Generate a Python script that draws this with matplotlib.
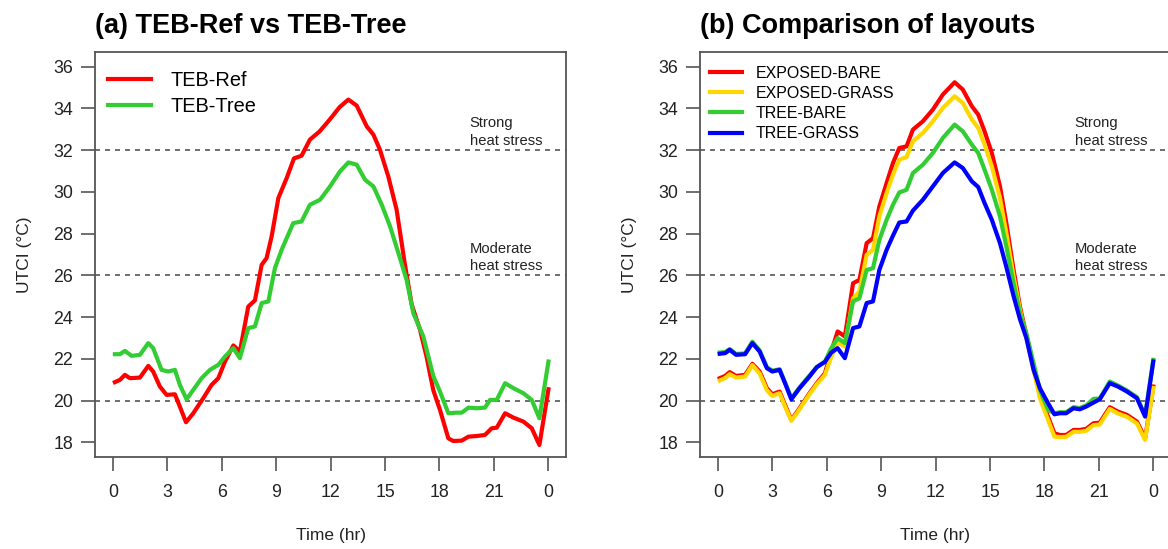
import matplotlib
matplotlib.use("Agg")
import matplotlib.pyplot as plt

plt.rcParams['font.family'] = ['Liberation Sans', 'DejaVu Sans']

# ---------------- data ----------------
hours_ref = [0.11, 0.39, 0.66, 0.94, 1.49, 1.95, 2.22, 2.59, 2.96, 3.42, 3.69, 4.03, 4.43, 4.98, 5.44,
             5.81, 6.18, 6.64, 7.0, 7.46, 7.83, 8.2, 8.47, 8.75, 9.12, 9.58, 9.98, 10.4, 10.86, 11.4,
             11.95, 12.5, 12.98, 13.44, 13.99, 14.36, 14.72, 15.18, 15.64, 16.1, 16.47, 16.93, 17.29,
             17.66, 18.03, 18.49, 18.76, 19.23, 19.6, 20.06, 20.51, 20.88, 21.16, 21.62, 22.08, 22.63,
             23.09, 23.51, 24.01]
teb_ref = [20.88, 20.99, 21.23, 21.07, 21.1, 21.66, 21.39, 20.67, 20.27, 20.3, 19.71, 18.96, 19.39,
           20.11, 20.75, 21.07, 21.87, 22.64, 22.35, 24.5, 24.8, 26.5, 26.82, 27.86, 29.7, 30.66, 31.6,
           31.73, 32.5, 32.9, 33.46, 34.06, 34.42, 34.13, 33.14, 32.74, 32.02, 30.74, 29.14, 26.5,
           24.6, 23.39, 22.1, 20.5, 19.55, 18.19, 18.06, 18.08, 18.27, 18.3, 18.35, 18.67, 18.7, 19.39,
           19.18, 18.99, 18.67, 17.87, 20.54]

hours_tree = [0.11, 0.39, 0.66, 1.03, 1.49, 1.95, 2.22, 2.68, 3.05, 3.42, 3.69, 4.06, 4.43, 4.89, 5.35,
              5.81, 6.18, 6.64, 7.0, 7.46, 7.83, 8.2, 8.57, 8.93, 9.3, 9.94, 10.4, 10.86, 11.42, 11.97,
              12.52, 12.98, 13.44, 13.9, 14.36, 14.82, 15.28, 15.74, 16.19, 16.56, 17.11, 17.67, 18.03,
              18.49, 18.95, 19.23, 19.6, 20.06, 20.51, 20.79, 21.16, 21.62, 22.08, 22.63, 23.09, 23.51,
              24.01]
teb_tree = [22.22, 22.22, 22.38, 22.14, 22.19, 22.75, 22.51, 21.47, 21.39, 21.47, 20.75, 20.06, 20.51,
            21.07, 21.47, 21.71, 22.11, 22.51, 22.03, 23.47, 23.55, 24.67, 24.75, 26.34, 27.22, 28.5,
            28.58, 29.38, 29.62, 30.26, 30.98, 31.41, 31.3, 30.58, 30.26, 29.38, 28.34, 27.06, 25.78,
            24.19, 23.07, 21.15, 20.43, 19.39, 19.42, 19.42, 19.66, 19.63, 19.66, 20.03, 20.03, 20.83,
            20.59, 20.35, 20.03, 19.15, 21.87]

hours_layout = [0.1, 0.4, 0.65, 1.0, 1.5, 1.9, 2.3, 2.7, 3.0, 3.4, 3.7, 4.05, 4.5, 5.05, 5.45, 5.9,
                6.25, 6.6, 7.0, 7.45, 7.8, 8.2, 8.55, 8.9, 9.3, 9.65, 10.0, 10.4, 10.75, 11.3, 11.85,
                12.4, 13.05, 13.5, 14.0, 14.35, 14.7, 15.1, 15.55, 15.9, 16.3, 16.65, 17.0, 17.4, 17.75,
                18.2, 18.55, 18.85, 19.2, 19.6, 19.95, 20.3, 20.7, 21.05, 21.6, 22.05, 22.55, 23.1,
                23.55, 24.0]
exposed_bare = [21.07, 21.18, 21.36, 21.18, 21.23, 21.76, 21.39, 20.59, 20.3, 20.43, 19.79, 19.07,
                19.63, 20.35, 20.83, 21.31, 22.35, 23.31, 23.07, 25.62, 25.78, 27.54, 27.78, 29.3,
                30.42, 31.38, 32.1, 32.18, 32.98, 33.38, 33.94, 34.66, 35.25, 34.9, 34.1, 33.7, 32.9,
                31.86, 30.26, 28.5, 26.26, 24.5, 23.15, 21.63, 20.27, 19.23, 18.43, 18.35, 18.35,
                18.59, 18.59, 18.64, 18.91, 18.94, 19.68, 19.47, 19.31, 18.99, 18.19, 20.67]
exposed_grass = [20.96, 21.08, 21.26, 21.1, 21.15, 21.7, 21.3, 20.5, 20.22, 20.35, 19.72, 19.03,
                 19.58, 20.3, 20.78, 21.23, 22.1, 22.78, 22.59, 24.9, 25.22, 26.98, 27.22, 28.82,
                 29.94, 30.82, 31.54, 31.67, 32.42, 32.82, 33.38, 34.02, 34.58, 34.26, 33.46, 33.06,
                 32.26, 31.22, 29.7, 28.02, 25.94, 24.35, 23.04, 21.47, 20.11, 19.07, 18.27, 18.25,
                 18.26, 18.5, 18.5, 18.55, 18.82, 18.85, 19.6, 19.38, 19.22, 18.9, 18.11, 20.6]
tree_bare = [22.3, 22.32, 22.47, 22.23, 22.26, 22.82, 22.4, 21.6, 21.43, 21.5, 20.87, 20.1, 20.63,
             21.2, 21.6, 21.87, 22.51, 22.99, 22.75, 24.75, 24.9, 26.26, 26.34, 27.7, 28.66, 29.38,
             29.97, 30.1, 30.9, 31.3, 31.86, 32.58, 33.22, 32.9, 32.26, 31.86, 31.06, 30.1, 28.82,
             27.38, 25.62, 24.19, 23.23, 21.79, 20.51, 19.55, 19.39, 19.44, 19.44, 19.68, 19.64,
             19.76, 20.08, 20.1, 20.91, 20.72, 20.48, 20.16, 19.28, 21.95]
tree_grass = [22.24, 22.27, 22.43, 22.19, 22.22, 22.75, 22.35, 21.55, 21.39, 21.47, 20.83, 20.06,
              20.59, 21.15, 21.6, 21.85, 22.3, 22.51, 22.03, 23.47, 23.55, 24.67, 24.75, 26.26,
              27.22, 27.9, 28.53, 28.58, 29.1, 29.62, 30.26, 30.9, 31.41, 31.14, 30.5, 30.23, 29.46,
              28.66, 27.54, 26.4, 25.0, 23.9, 23.0, 21.47, 20.59, 19.87, 19.34, 19.39, 19.39, 19.63,
              19.58, 19.71, 19.9, 20.06, 20.83, 20.67, 20.43, 20.11, 19.23, 21.87]

x_ticks = [0, 3, 6, 9, 12, 15, 18, 21, 24]
x_tick_labels = ['0', '3', '6', '9', '12', '15', '18', '21', '0']
y_ticks = [18, 20, 22, 24, 26, 28, 30, 32, 34, 36]
stress_levels = [20, 26, 32]
stress_labels = {26: 'Moderate\nheat stress', 32: 'Strong\nheat stress'}

# ---------------- figure ----------------
W, H = 1168, 549
fig = plt.figure(figsize=(W / 100, H / 100), dpi=100)

def px_axes(left, top, right, bottom):
    return fig.add_axes([left / W, 1 - bottom / H, (right - left) / W, (bottom - top) / H])

ax1 = px_axes(95.3, 52, 565.7, 457.3)
ax2 = px_axes(700.3, 52, 1170.7, 457.3)

spine_col = '#555555'
text_col = '#222222'

def style(ax, title):
    ax.set_xlim(-0.97, 24.96)
    ax.set_ylim(17.28, 36.70)
    ax.set_xticks(x_ticks)
    ax.set_xticklabels(x_tick_labels)
    ax.set_yticks(y_ticks)
    ax.tick_params(axis='both', direction='out', length=10, width=1.2, color=spine_col,
                   labelsize=12.8, labelcolor=text_col)
    ax.tick_params(axis='x', pad=9)
    ax.tick_params(axis='y', pad=6)
    for s in ax.spines.values():
        s.set_color(spine_col)
        s.set_linewidth(1.3)
    ax.set_xlabel('Time (hr)', fontsize=12.5, color=text_col, labelpad=20)
    ax.set_ylabel('UTCI (°C)', fontsize=12.5, color=text_col, labelpad=15)
    ax.set_title(title, loc='left', fontsize=19.5, fontweight='bold', pad=14)
    for lvl in stress_levels:
        ax.axhline(lvl, color='#555555', lw=1.2, ls=(0, (3, 3)), zorder=1)
    for lvl, lab in stress_labels.items():
        ax.text(19.66, lvl + 0.1, lab, fontsize=10.6, color=text_col, ha='left', va='bottom',
                linespacing=1.32)

style(ax1, '(a) TEB-Ref vs TEB-Tree')
style(ax2, '(b) Comparison of layouts')

lw = 3.0
ax1.plot(hours_ref, teb_ref, color='#FF0000', lw=lw, label='TEB-Ref', zorder=3)
ax1.plot(hours_tree, teb_tree, color='#32CD32', lw=lw, label='TEB-Tree', zorder=3)
ax1.legend(loc='upper left', bbox_to_anchor=(0.027, 0.953), frameon=False, fontsize=14.4,
           handlelength=2.15, handletextpad=0.95, labelspacing=0.33, borderpad=0,
           borderaxespad=0)

ax2.plot(hours_layout, exposed_bare, color='#FF0000', lw=lw, label='EXPOSED-BARE', zorder=3)
ax2.plot(hours_layout, exposed_grass, color='#FFD700', lw=lw, label='EXPOSED-GRASS', zorder=3)
ax2.plot(hours_layout, tree_bare, color='#32CD32', lw=lw, label='TREE-BARE', zorder=3)
ax2.plot(hours_layout, tree_grass, color='#0000FF', lw=lw, label='TREE-GRASS', zorder=3)
ax2.legend(loc='upper left', bbox_to_anchor=(0.0206, 0.966), frameon=False, fontsize=11.5,
           handlelength=2.0, handletextpad=0.875, labelspacing=0.32, borderpad=0,
           borderaxespad=0)

fig.savefig('out.png', dpi=100)
